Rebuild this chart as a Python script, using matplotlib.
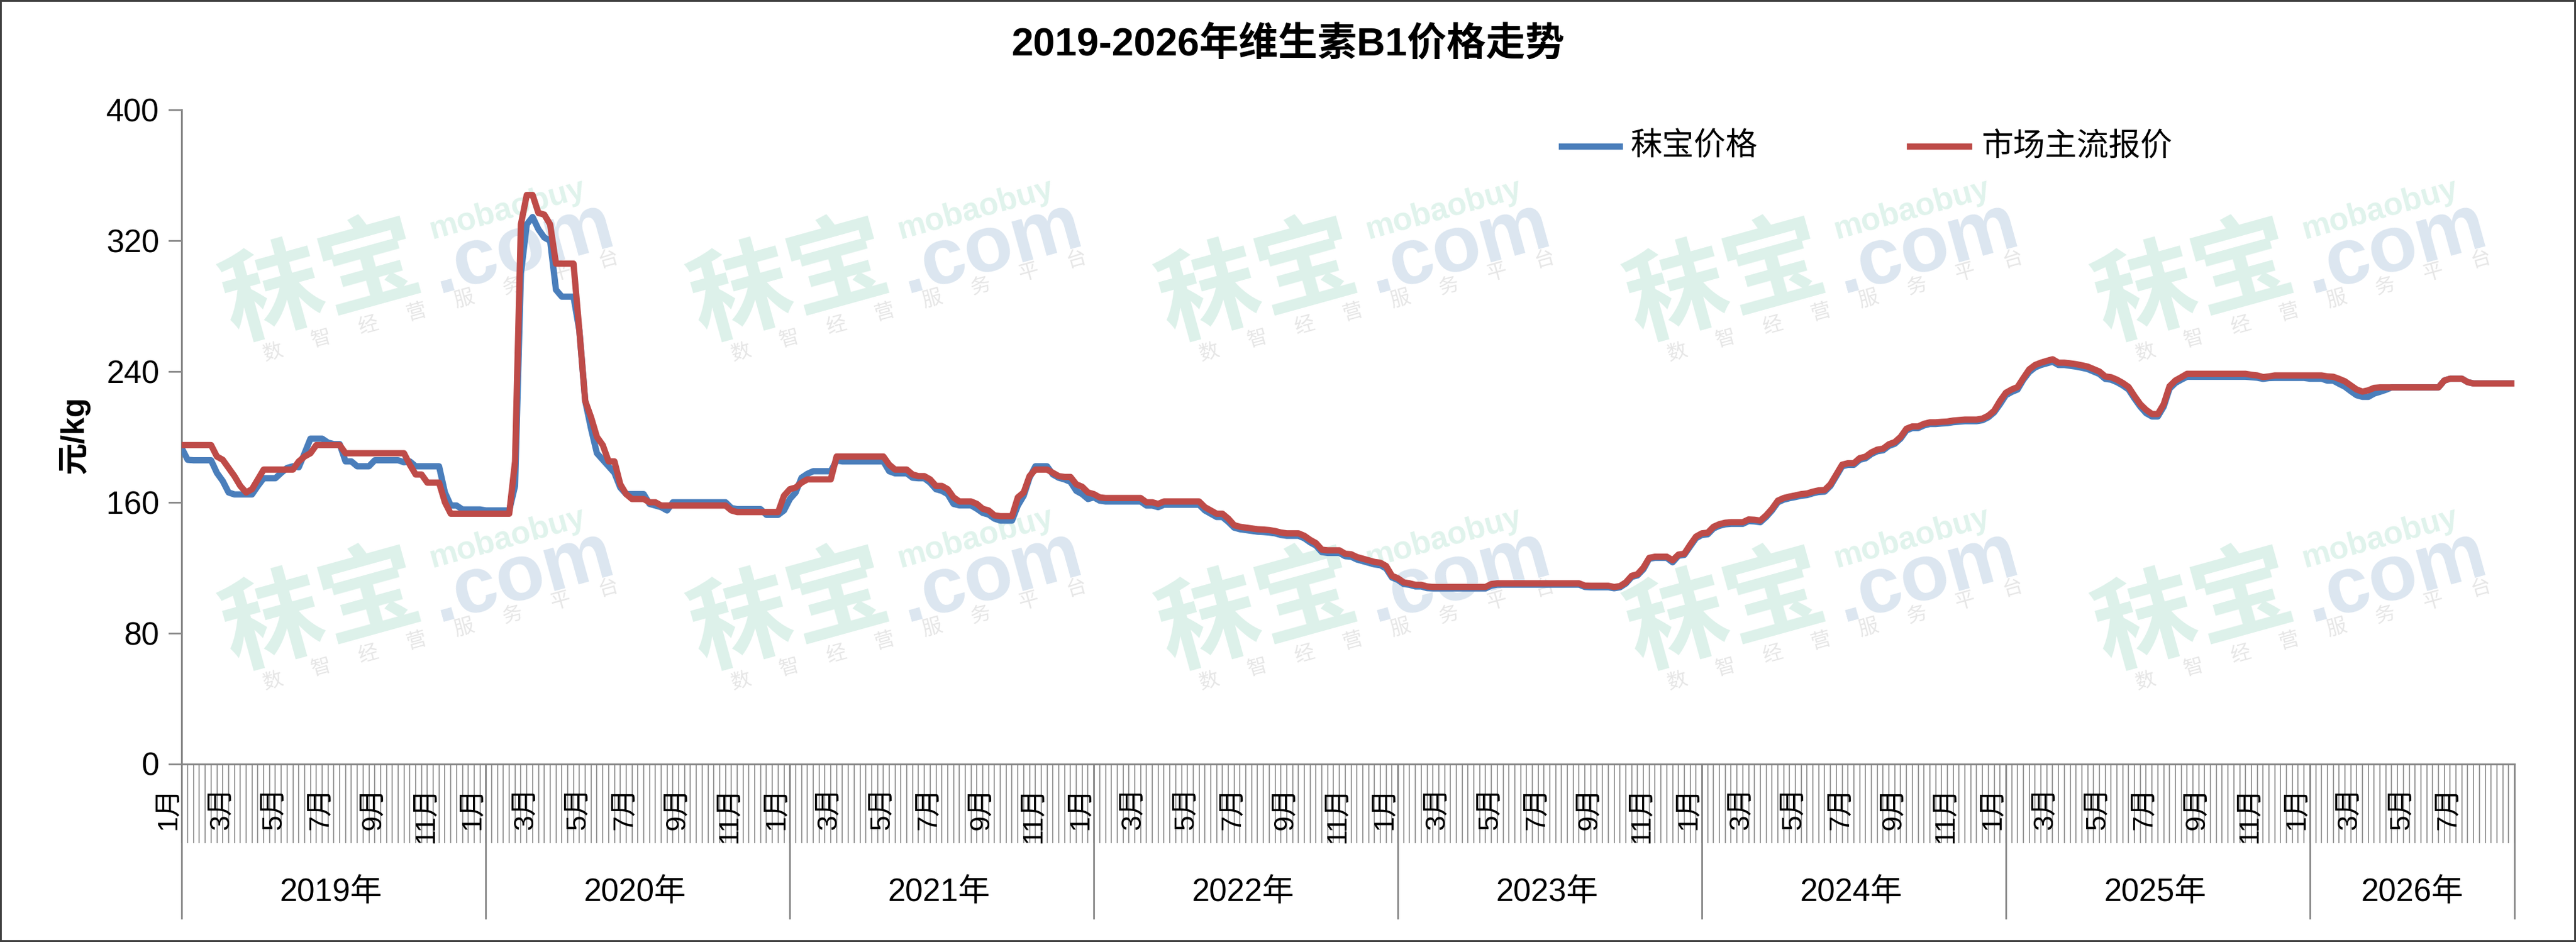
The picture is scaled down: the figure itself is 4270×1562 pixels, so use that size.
import numpy as np
import matplotlib
matplotlib.use('Agg')
import matplotlib.pyplot as plt
from matplotlib.lines import Line2D
from matplotlib.patches import Rectangle
from matplotlib.transforms import blended_transform_factory

plt.rcParams['font.family'] = ['Liberation Sans', 'Noto Sans CJK SC', 'DejaVu Sans']

W, H = 4270, 1562

title = '2019-2026年维生素B1价格走势'
series_names = ['秣宝价格', '市场主流报价']
years = ['2019年', '2020年', '2021年', '2022年', '2023年', '2024年', '2025年', '2026年']
year_weeks = [52, 52, 52, 52, 52, 52, 52, 36]
y_ticks = [0, 80, 160, 240, 320, 400]

# weekly prices, 秣宝价格 (blue)
mobao_2019 = [193, 186, 185.7, 185.7, 185.7, 185.7, 178, 173, 166, 164.8, 164.8, 164.8, 164.8,
              170, 174.7, 174.7, 174.7, 178, 181, 182, 181.4, 190, 198.9, 198.9, 198.9, 196.5,
              195.6, 195.6, 185, 185, 182, 182, 182, 185.7, 185.7, 185.7, 185.7, 185.7, 184.5,
              185, 182, 182, 182, 182, 182, 166, 158, 158, 155.6, 155.6, 155.6, 155.6]
mobao_2020 = [155, 155, 155, 155, 155, 170, 300, 330, 334.5, 327, 322, 320, 290,
              285.8, 285.8, 285.8, 265, 222, 205, 190, 186, 182, 178, 169, 165, 165,
              165, 165, 159, 158, 157, 155, 160, 160, 160, 160, 160, 160, 160,
              160, 160, 160, 156.5, 155.8, 155.8, 155.8, 155.8, 155.8, 152.3, 152.3, 152.3, 155]
mobao_2021 = [162, 166, 175, 177.4, 179, 179, 179, 179, 185.6, 185, 185, 185, 185,
              185, 185, 185, 185, 179, 177.7, 177.7, 177.7, 175, 174.7, 174.7, 172, 168,
              167, 165, 159, 158.1, 158.1, 158.1, 156, 153.5, 152.5, 150, 148.8, 148.8, 148.8,
              158, 164, 175, 182, 182, 182, 177, 175, 174, 172.5, 167, 165, 162]
mobao_2022 = [163, 161, 160.5, 160.5, 160.5, 160.5, 160.5, 160.5, 160.5, 158, 158, 157, 158.5,
              158.5, 158.5, 158.5, 158.5, 158.5, 158.5, 155, 153, 151, 151, 148, 144.5, 143.5,
              143, 142.5, 142, 141.8, 141.5, 141, 140, 139.5, 139.5, 139.5, 138, 135.5, 133.5,
              129.5, 129, 129, 129, 127, 126.7, 125, 124, 123, 122, 121.5, 119.5, 114]
mobao_2023 = [112.5, 110, 109.5, 108.5, 108.5, 107.5, 107.3, 107.3, 107.3, 107.3, 107.3, 107.3, 107.3,
              107.3, 107.3, 107.3, 109, 109.6, 109.6, 109.6, 109.6, 109.6, 109.6, 109.6, 109.6, 109.6,
              109.6, 109.6, 109.6, 109.6, 109.6, 109.6, 108.2, 108, 108, 108, 108, 107.4, 108,
              110.3, 114.3, 115.3, 119, 125.5, 126, 126, 126, 123.3, 127.3, 127.8, 133, 138]
mobao_2024 = [140, 140.4, 144, 145.6, 146.5, 146.8, 146.8, 146.8, 148.5, 148.3, 147.8, 151, 155,
              160, 161.6, 162.5, 163.2, 164, 164.4, 165.5, 166.3, 166.5, 170, 176, 182, 182.9,
              182.9, 186, 186.9, 189.5, 191.2, 191.8, 194.5, 195.8, 199, 204, 205.4, 205.4, 207,
              207.9, 207.9, 208.2, 208.4, 209, 209.3, 209.6, 209.6, 209.6, 210.2, 212, 215, 220]
mobao_2025 = [225.5, 227.5, 229, 235, 239.7, 242.5, 244, 245, 246, 244, 244, 243.5, 243,
              242.3, 241.5, 240, 238.5, 235.5, 235, 233.5, 231.5, 229, 223.5, 218.5, 214.5, 212.5,
              212.5, 218.5, 229.5, 233, 235, 236.8, 236.8, 236.8, 236.8, 236.8, 236.8, 236.8, 236.8,
              236.8, 236.8, 236.8, 236.5, 236.2, 235.5, 236, 236.1, 236.1, 236.1, 236.1, 236.1, 236.1]
mobao_2026 = [235.6, 235.6, 235.6, 234.4, 234.4, 232.5, 230.7, 228, 225.5, 224.5, 224.5, 226.5,
              227.6, 228.8, 230.3, 230.3, 230.3, 230.3, 230.3, 230.3, 230.3, 230.3, 230.3, 234.5,
              235.6, 235.6, 235.6, 233.5, 232.7, 232.7, 232.7, 232.7, 232.7, 232.7, 232.7, 232.7]

# weekly prices, 市场主流报价 (red)
market_2019 = [195, 195, 195, 195, 195, 195, 188, 186, 181, 176, 170, 166, 168,
               174, 180, 180, 180, 180, 180, 180, 185, 188, 190, 195, 195, 195,
               195, 195, 190, 190, 190, 190, 190, 190, 190, 190, 190, 190, 190,
               183, 177, 177, 172, 172, 172, 160, 153, 153, 153, 153, 153, 153]
market_2020 = [153, 153, 153, 153, 153, 185, 330, 348, 348, 337, 336, 330, 306,
               306, 306, 306, 265, 222, 212, 200, 195, 185, 185, 171, 165, 162,
               162, 162, 160, 160, 158, 158, 158, 158, 158, 158, 158, 158, 158,
               158, 158, 158, 155, 154, 154, 154, 154, 154, 154, 154, 154, 164]
market_2021 = [168, 169, 172, 174, 174, 174, 174, 174, 188, 188, 188, 188, 188,
               188, 188, 188, 188, 183, 180, 180, 180, 177, 176, 176, 174, 170,
               170, 168, 163, 160.5, 160.5, 160.5, 159, 156, 155, 152, 151.5, 151.5, 151.5,
               163, 166, 176, 180, 180, 180, 178, 176, 175.5, 175.5, 171, 169.5, 166]
market_2022 = [165, 163, 162.6, 162.6, 162.6, 162.6, 162.6, 162.6, 162.6, 160, 160, 159, 160.5,
               160.5, 160.5, 160.5, 160.5, 160.5, 160.5, 157, 155, 153, 153, 150, 146, 145,
               144.5, 144, 143.5, 143.3, 143, 142.4, 141.5, 141, 141, 141, 139.5, 137, 135,
               131, 130.6, 130.6, 130.6, 128.5, 128.2, 126.5, 125.5, 124.5, 123.5, 123, 121, 115]
market_2023 = [113.5, 111, 110.4, 109.5, 109.5, 108.5, 108.2, 108.2, 108.2, 108.2, 108.2, 108.2, 108.2,
               108.2, 108.2, 108.2, 110, 110.4, 110.4, 110.4, 110.4, 110.4, 110.4, 110.4, 110.4, 110.4,
               110.4, 110.4, 110.4, 110.4, 110.4, 110.4, 109, 108.9, 108.9, 108.9, 108.9, 108.2, 108.7,
               111, 115, 116, 120, 126, 126.7, 126.7, 126.7, 124.5, 128, 128.5, 134, 139]
market_2024 = [141, 141.4, 145, 146.6, 147.5, 147.8, 147.8, 147.8, 149.5, 149.3, 148.8, 152, 156,
               161, 162.6, 163.5, 164.2, 165, 165.4, 166.5, 167.3, 167.5, 171, 177, 183, 183.9,
               183.9, 187, 187.9, 190.5, 192.2, 192.8, 195.5, 196.8, 200, 205, 206.4, 206.4, 208,
               208.9, 208.9, 209.2, 209.4, 210, 210.3, 210.6, 210.6, 210.6, 211.2, 213, 216, 222]
market_2025 = [227, 229, 230.5, 236, 241.3, 244, 245.4, 246.5, 247.5, 245.4, 245.4, 245, 244.5,
               243.8, 243, 241.5, 240, 237, 236.5, 235, 233, 230.5, 225, 220, 216.5, 214,
               214, 220, 231, 234.5, 236.5, 238.6, 238.6, 238.6, 238.6, 238.6, 238.6, 238.6, 238.6,
               238.6, 238.6, 238.6, 238, 237.6, 236.6, 237, 237.6, 237.6, 237.6, 237.6, 237.6, 237.6]
market_2026 = [237.6, 237.6, 237.6, 237, 236.8, 235.5, 234, 231.5, 229, 227.7, 228.5, 230,
               230.3, 230.3, 230.3, 230.3, 230.3, 230.3, 230.3, 230.3, 230.3, 230.3, 230.3, 234.5,
               235.6, 235.6, 235.6, 233.5, 232.7, 232.7, 232.7, 232.7, 232.7, 232.7, 232.7, 232.7]

mobao = mobao_2019 + mobao_2020 + mobao_2021 + mobao_2022 + mobao_2023 + mobao_2024 + mobao_2025 + mobao_2026
market = market_2019 + market_2020 + market_2021 + market_2022 + market_2023 + market_2024 + market_2025 + market_2026
N = sum(year_weeks)
assert len(mobao) == N and len(market) == N, (len(mobao), len(market), N)

blue = '#4A7EBB'
red = '#BE4B48'
grey = '#868686'


def fx(px):
    return px / W


def fy(py):
    return (H - py) / H


# category labels, one per week like the sheet behind the chart
month_start = [0, 31, 59, 90, 120, 151, 181, 212, 243, 273, 304, 334]
week_month = []
for n in year_weeks:
    for w in range(n):
        week_month.append(max(k for k in range(12) if month_start[k] <= 7 * w) + 1)

fig = plt.figure(figsize=(W / 100, H / 100), dpi=100)
x_left, x_right = 301.4, 4168
y_top, y_bot = 182.4, 1266.5
ax = fig.add_axes([fx(x_left), fy(y_bot), fx(x_right) - fx(x_left), fy(y_top) - fy(y_bot)])
ax.set_facecolor('none')
ax.set_zorder(1)

x = np.arange(N)
ax.plot(x, mobao, color=blue, lw=7.5, solid_joinstyle='round', solid_capstyle='round', zorder=3)
ax.plot(x, market, color=red, lw=7.5, solid_joinstyle='round', solid_capstyle='round', zorder=4)

ax.set_xlim(0, N - 1)
ax.set_ylim(0, 400)
ax.set_yticks(y_ticks)
ax.set_xticks([])
ax.tick_params(axis='y', direction='out', length=16, width=2, color=grey, labelsize=38, pad=11)
for s in ['top', 'right']:
    ax.spines[s].set_visible(False)
for s in ['left', 'bottom']:
    ax.spines[s].set_color(grey)
    ax.spines[s].set_linewidth(2.2)

# multi-level category axis below the plot
tr = blended_transform_factory(ax.transData, fig.transFigure)
ax.vlines(x, fy(1398), fy(1268), transform=tr, colors='#999999', lw=1.4, clip_on=False)
starts = np.cumsum([0] + year_weeks[:-1])
bounds = list(starts) + [N - 1]
ax.vlines(bounds, fy(1524), fy(1266), transform=tr, colors=grey, lw=2, clip_on=False)
for i in range(N):
    first = i == 0 or week_month[i] != week_month[i - 1]
    last_of_year = (i + 1) in bounds or i == N - 1
    if first and week_month[i] % 2 == 1 and not (last_of_year and week_month[i] != 1):
        ax.text(i, fy(1305), f'{week_month[i]}月', rotation=90, ha='right', va='top',
                fontsize=33, transform=tr, clip_on=False)
for s, n, yl in zip(starts, year_weeks, years):
    ax.text(s + (n - 1) / 2, fy(1480), yl, ha='center', va='center', fontsize=38,
            transform=tr, clip_on=False)

fig.text(fx(123), fy(722), '元/kg', rotation=90, ha='center', va='center',
         fontsize=38, fontweight='bold')
fig.text(0.5, fy(73), title, ha='center', va='center', fontsize=47, fontweight='bold')

# legend
for (x0, x1, xt), c, name in zip([(2589, 2685, 2702), (3166, 3264, 3284)], [blue, red], series_names):
    fig.add_artist(Line2D([fx(x0), fx(x1)], [fy(243), fy(243)], color=c, lw=7.5))
    fig.text(fx(xt), fy(243), name, ha='left', va='center', fontsize=38)

# watermark
ang = 15.5
th = np.radians(ang)


def place(cx, cy, u, v):
    px = cx + u * np.cos(th) - v * np.sin(th)
    py_up = (H - cy) + u * np.sin(th) + v * np.cos(th)
    return px / W, py_up / H


def logo(cx, cy):
    kw = dict(rotation=ang, rotation_mode='anchor', ha='center', va='center', zorder=0.5)
    fig.text(*place(cx, cy, -10, 0), '秣宝', fontsize=120, fontweight='bold', color='#DDF1EA', **kw)
    fig.text(*place(cx, cy, 325, -28), '.com', fontsize=95, fontweight='bold', color='#DCE6F0', **kw)
    fig.text(*place(cx, cy, 318, 40), 'mobaobuy', fontsize=38, fontweight='bold', color='#E0F3EC', **kw)
    for k, ch in enumerate('数智经营服务平台'):
        fig.text(*place(cx, cy, -119 + 82.3 * k, -85), ch, fontsize=24, color='#E6E6E6', **kw)


for cy in [471, 1016]:
    for cx in [545, 1321, 2097, 2873, 3649]:
        logo(cx, cy)

fig.add_artist(Rectangle((0, 0), 1, 1, transform=fig.transFigure, fill=False,
                         edgecolor='#404040', lw=4.3))

fig.savefig('out.png', dpi=100)
